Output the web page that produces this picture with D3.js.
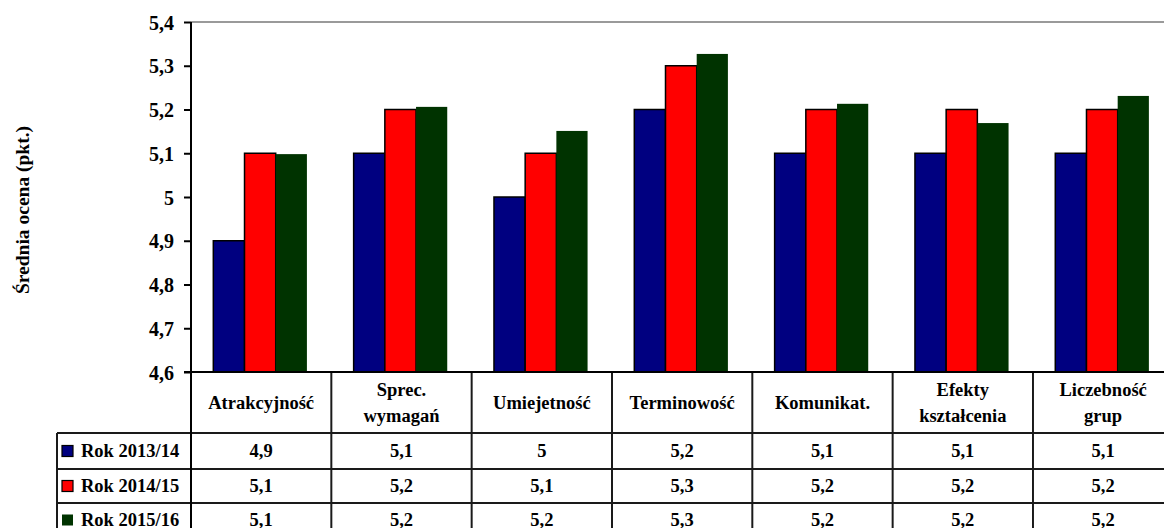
<!DOCTYPE html>
<html>
<head>
<meta charset="utf-8">
<script src="https://cdn.jsdelivr.net/npm/d3@7"></script>
<style>
  html, body { margin: 0; padding: 0; background: #fff; overflow: hidden; }
  svg { display: block; }
  svg text { font-family: "Liberation Serif", "Times New Roman", Times, "DejaVu Serif", serif; font-weight: bold; fill: #000; }
</style>
</head>
<body>
<svg id="chart" width="1164" height="528"></svg>
<script>
// ---- data ----
const categories = [
  ["Atrakcyjność"],
  ["Sprec.", "wymagań"],
  ["Umiejetność"],
  ["Terminowość"],
  ["Komunikat."],
  ["Efekty", "kształcenia"],
  ["Liczebność", "grup"]
];
const seriesNames = ["Rok 2013/14", "Rok 2014/15", "Rok 2015/16"];
const seriesColors = ["#000080", "#FF0000", "#003300"];
const rok2013 = [4.9, 5.1, 5.0, 5.2, 5.1, 5.1, 5.1];
const rok2014 = [5.1, 5.2, 5.1, 5.3, 5.2, 5.2, 5.2];
const rok2015 = [5.098, 5.206, 5.151, 5.327, 5.213, 5.169, 5.231];
const yTicks = [4.6, 4.7, 4.8, 4.9, 5.0, 5.1, 5.2, 5.3, 5.4];
const yTitle = "Średnia ocena (pkt.)";

const seriesValues = [rok2013, rok2014, rok2015];

// ---- layout ----
const FONT = '"Liberation Serif", "Times New Roman", Times, "DejaVu Serif", serif';
const svg = d3.select("#chart");
const plotLeft = 191, plotRight = 1173.3, plotTop = 22, plotBottom = 372;
const tableLeft = 57;
const rowEdges = [372, 433, 469, 503, 537];

const locale = d3.formatLocale({decimal: ",", thousands: " ", grouping: [3], currency: ["", ""]});
const fmtTick = locale.format(".1~f");
const fmtCell = locale.format(".1~f");

const y = d3.scaleLinear().domain([4.6, 5.4]).range([plotBottom, plotTop]);
const catIdx = categories.map((c, i) => i);
const x0 = d3.scaleBand().domain(catIdx).range([plotLeft, plotRight]).padding(0);
const gw = x0.bandwidth();
const x1 = d3.scaleBand().domain([0, 1, 2]).range([gw * 0.159, gw * 0.826]).padding(0);

// top gridline
svg.append("line")
  .attr("x1", plotLeft).attr("x2", 1164)
  .attr("y1", y(5.4)).attr("y2", y(5.4))
  .attr("stroke", "#9a9a9a").attr("stroke-width", 2);

// bars
const groups = svg.selectAll("g.cat").data(catIdx).join("g")
  .attr("class", "cat")
  .attr("transform", i => `translate(${x0(i)},0)`);
groups.selectAll("rect").data(i => seriesValues.map((vals, s) => ({s, v: vals[i]}))).join("rect")
  .attr("x", d => x1(d.s))
  .attr("width", x1.bandwidth())
  .attr("y", d => y(d.v))
  .attr("height", d => y(4.6) - y(d.v))
  .attr("fill", d => seriesColors[d.s])
  .attr("stroke", d => d.s === 2 ? "none" : "#000")
  .attr("stroke-width", 1.5);

// y axis
const yAxis = d3.axisLeft(y).tickValues(yTicks).tickFormat(fmtTick).tickSize(7).tickPadding(10);
const ga = svg.append("g").attr("transform", `translate(${plotLeft},0)`).call(yAxis);
ga.attr("font-family", null).attr("font-size", null);
ga.select(".domain").remove();
ga.selectAll(".tick line").attr("stroke", "#000").attr("stroke-width", 2);
ga.selectAll(".tick text")
  .style("font-size", "20px").style("font-family", FONT).style("font-weight", "bold")
  .attr("dy", "0.35em");

// y title
svg.append("text")
  .attr("transform", `translate(29,210) rotate(-90)`)
  .attr("text-anchor", "middle")
  .style("font-family", FONT)
  .style("font-size", "19.5px")
  .text(yTitle);

// ---- table ----
const lineColor = "#1a1a1a";
[433, 469, 503].forEach(yy => {
  svg.append("line").attr("x1", tableLeft).attr("x2", 1164).attr("y1", yy).attr("y2", yy)
    .attr("stroke", lineColor).attr("stroke-width", 2);
});
catIdx.forEach(i => {
  if (i === 0) return;
  svg.append("line").attr("x1", x0(i)).attr("x2", x0(i)).attr("y1", rowEdges[0]).attr("y2", 528)
    .attr("stroke", lineColor).attr("stroke-width", 2);
});
svg.append("line").attr("x1", tableLeft).attr("x2", tableLeft).attr("y1", rowEdges[1]).attr("y2", 528)
  .attr("stroke", lineColor).attr("stroke-width", 2);
svg.append("line").attr("x1", plotLeft).attr("x2", plotLeft).attr("y1", plotTop).attr("y2", 528)
  .attr("stroke", "#000").attr("stroke-width", 2);
svg.append("line").attr("x1", plotLeft - 7).attr("x2", 1164).attr("y1", plotBottom).attr("y2", plotBottom)
  .attr("stroke", "#000").attr("stroke-width", 2);

// header labels
const hdr = svg.selectAll("text.hdr").data(catIdx).join("text")
  .attr("class", "hdr")
  .attr("text-anchor", "middle")
  .style("font-family", FONT)
  .style("font-size", "18.5px");
hdr.each(function(i) {
  const lines = categories[i];
  const cy = (rowEdges[0] + rowEdges[1]) / 2;
  const lh = 26;
  const start = cy - (lines.length - 1) * lh / 2;
  d3.select(this).selectAll("tspan").data(lines).join("tspan")
    .attr("x", x0(i) + gw / 2)
    .attr("y", (d, k) => start + k * lh)
    .attr("dy", "0.35em")
    .text(d => d);
});

// rows
seriesNames.forEach((name, s) => {
  const cy = (rowEdges[s + 1] + rowEdges[s + 2]) / 2;
  svg.append("rect")
    .attr("x", 62).attr("y", cy - 5.5).attr("width", 11).attr("height", 11)
    .attr("fill", seriesColors[s])
    .attr("stroke", s === 2 ? "none" : "#000").attr("stroke-width", 1.2);
  svg.append("text").attr("x", 81).attr("y", cy).attr("dy", "0.35em")
    .style("font-family", FONT)
    .style("font-size", "18.5px").text(name);
  svg.selectAll(null).data(seriesValues[s]).join("text")
    .attr("x", (d, i) => x0(i) + gw / 2)
    .attr("y", cy).attr("dy", "0.35em")
    .attr("text-anchor", "middle")
    .style("font-family", FONT)
    .style("font-size", "18.5px")
    .text(d => fmtCell(d));
});
</script>
</body>
</html>
